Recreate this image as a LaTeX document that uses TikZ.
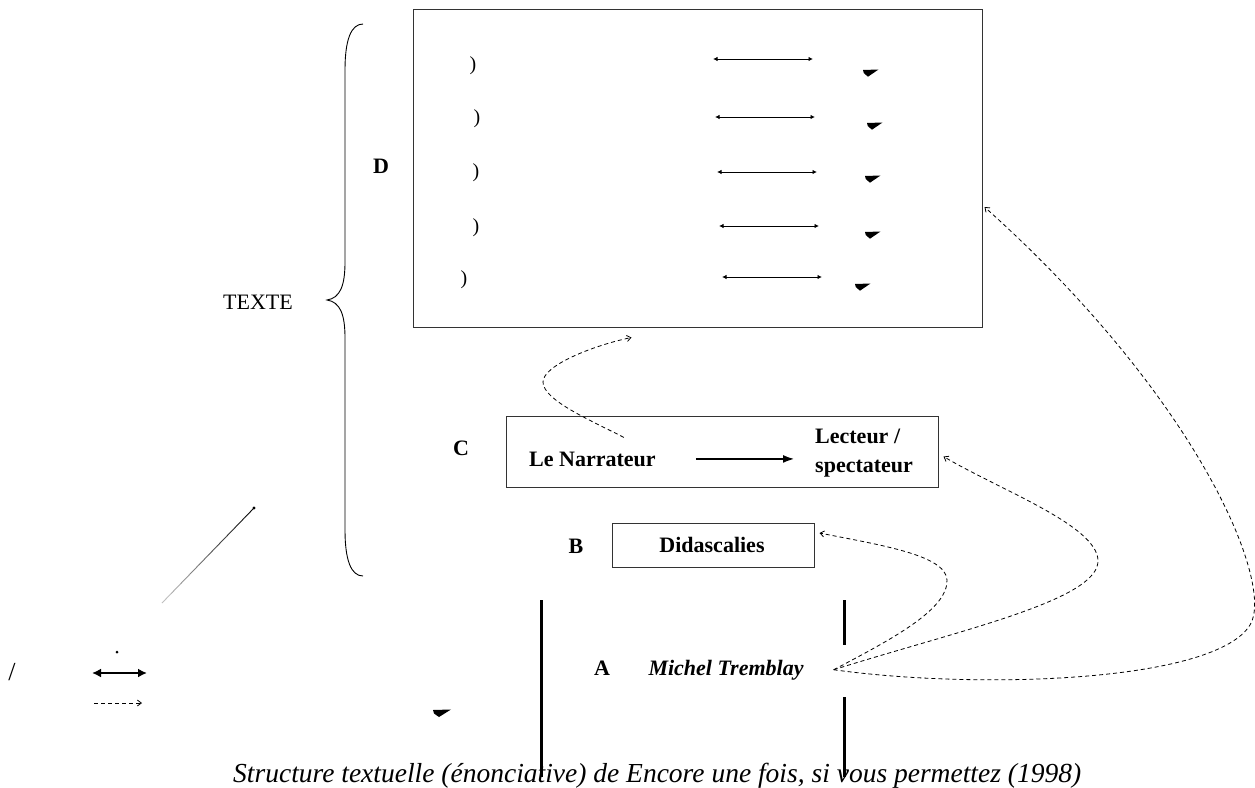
\documentclass[tikz,border=0pt]{standalone}
\usepackage{fontspec}
\setmainfont{Liberation Serif}
\usetikzlibrary{arrows.meta,calc}
\newcommand\wedgemark[1]{\fill (#1) -- ++(15.5,-0.5) -- ++(-10.5,7.2) -- ++(-4.2,-3.6) -- cycle;}
\begin{document}
\begin{tikzpicture}[x=1pt,y=-1pt,
  lab/.style={font=\fontsize{22}{26}\selectfont\bfseries, inner sep=0pt},
  txt/.style={font=\fontsize{22}{26}\selectfont, inner sep=0pt},
  paren/.style={font=\fontsize{20}{24}\selectfont, inner sep=0pt},
  frame/.style={draw=black!80, line width=1pt, inner sep=0pt},
  dashlink/.style={line width=0.8pt, dash pattern=on 4pt off 3pt, -{Straight Barb[length=4pt,width=6pt]}},
  dblarrow/.style={line width=1pt, {Latex[length=4.5pt,width=4.5pt]}-{Latex[length=4.5pt,width=4.5pt]}},
  bar/.style={line width=3pt}
]
\fill[white] (0,0) rectangle (1255,787);
\useasboundingbox (0,0) rectangle (1255,787);

% D box
\node[frame, minimum width=569pt, minimum height=318pt] (dbox) at (697.5,168) {};
\node[lab, anchor=base] (dlab) at (381,173) {D};
\foreach \px/\py/\ax/\bx/\ay/\tx/\ty in {473/66/713/813/59/863/70, 477/119/715/815/117/867/123, 476/173/717/817/172/865/176, 476/228/719/819/226/865/232, 464/280/722/822/277/855/284}{
  \node[paren] at (\px,\py) {)};
  \draw[dblarrow] (\ax,\ay) -- (\bx,\ay);
  \wedgemark{\tx,\ty}
}

% brace and TEXTE
\draw[line width=0.9pt] (363,24) .. controls (351,24) and (345,40) .. (345,70) -- (345,262)
  .. controls (345,286) and (340,298) .. (327,300) .. controls (340,302) and (345,314) .. (345,338)
  -- (345,530) .. controls (345,560) and (351,576) .. (363,576);
\node[txt, anchor=base] (texte) at (258,309) {TEXTE};

% C box
\node[frame, minimum width=432pt, minimum height=71pt] (cbox) at (722,451.5) {};
\node[lab, anchor=base] (clab) at (461,455) {C};
\node[lab, anchor=base west] (narr) at (529,466) {Le Narrateur};
\node[lab, anchor=base west] (lect1) at (815,443) {Lecteur /};
\node[lab, anchor=base west] (lect2) at (815,472) {spectateur};
\draw[line width=2.5pt, -{Latex[length=12pt,width=8pt]}, shorten <=40pt, shorten >=20pt] (narr.east) -- (narr.east -| lect1.west);

% B box
\node[frame, minimum width=202pt, minimum height=44pt] (bbox) at (713,545) {};
\node[lab, anchor=base] (didas) at (712,552) {Didascalies};
\node[lab, anchor=base] (blab) at (576,553) {B};

% A
\draw[bar] (541,600) coordinate (l1a) -- (541,777) coordinate (l1b);
\draw[bar] (844,600) coordinate (l2a) -- (844,645) coordinate (l2b);
\draw[bar] (844,697) coordinate (l3a) -- (844,777) coordinate (l3b);
\node[lab, anchor=base] (alab) at (602,675) {A};
\node[lab, anchor=base, font=\fontsize{22}{26}\selectfont\bfseries\itshape] (mt) at (726,675) {Michel Tremblay};
\coordinate (src) at ($(mt.east)+(30,0)$);

% dashed links
\draw[dashlink] (src) .. controls (890,640) and (948,610) .. (947,580)
  .. controls (946,555) and (880,545) .. ($(bbox.east)+(5,-12)$);
\draw[dashlink] (src) .. controls (960,630) and (1100,600) .. (1098,560)
  .. controls (1096,525) and (1000,490) .. ($(cbox.east)+(5,5)$);
\draw[dashlink] (src) .. controls (980,690) and (1215,682) .. (1250,625)
  .. controls (1275,585) and (1200,400) .. ($(dbox.east)+(2,39)$);
\coordinate (nstart) at ($(narr.north east)+(-32,-14)$);
\draw[dashlink] (nstart) .. controls (590,420) and (543,400) .. (543,382)
  .. controls (543,365) and (595,345) .. ($(dbox.south)+(-66,10)$);

% legend / stray marks
\coordinate (dg1) at (162,603); \coordinate (dg2) at (254,508);
\foreach \i in {0,...,9}{
  \pgfmathsetmacro\shadeval{25+8*\i}
  \draw[line width=0.9pt, black!\shadeval] ($(dg1)!\i/10!(dg2)$) -- ($(dg1)!\i/10+0.1!(dg2)$);
}
\fill (dg2) circle (1.6);
\fill (117,652) circle (1.5);
\node[inner sep=0pt, font=\fontsize{26}{30}\selectfont] (slash) at (12,672) {/};
\coordinate (lg1) at (92,673); \coordinate (lg2) at (147,673);
\draw[line width=2.2pt, {Latex[length=9pt,width=9pt]}-{Latex[length=9pt,width=9pt]}] (lg1) -- (lg2);
\coordinate (lg3) at (94,703); \coordinate (lg4) at (142,703);
\draw[dashlink] (lg3) -- (lg4);
\fill (433,710) -- ++(18,-0.5) -- ++(-12,7.5) -- ++(-5,-3.5) -- cycle;

% caption
\node[anchor=base west, inner sep=0pt, font=\fontsize{27.5}{32}\selectfont\itshape] (cap) at (233,782)
  {Structure textuelle (énonciative) de Encore une fois, si vous permettez (1998)};
\end{tikzpicture}
\end{document}
